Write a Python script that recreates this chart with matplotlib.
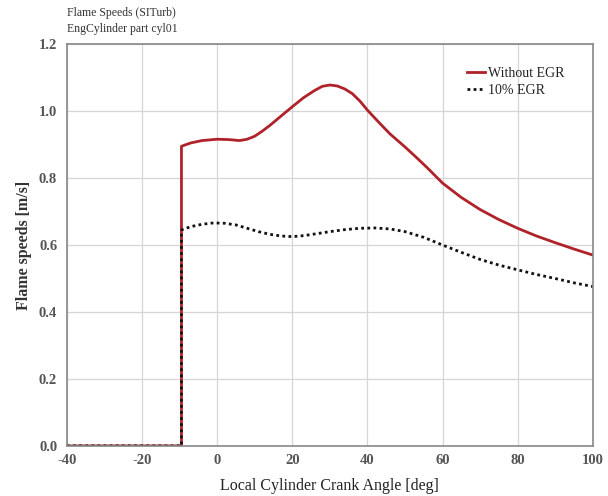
import matplotlib
matplotlib.use("Agg")
import matplotlib.pyplot as plt

# crank angle [deg] and flame speed [m/s]
angle_no_egr = [-40, -9.5, -9.5, -7, -4, 0, 3, 6, 8, 10, 12, 14, 17, 20, 23, 26, 28, 30,
                32, 34, 36, 38, 40, 43, 46, 50, 53, 56, 60, 65, 70, 75, 80, 85, 90, 95, 100]
speed_no_egr = [0.0, 0.0, 0.895, 0.905, 0.912, 0.916, 0.915, 0.912, 0.916, 0.925, 0.94,
                0.957, 0.985, 1.013, 1.04, 1.062, 1.074, 1.078, 1.075, 1.066, 1.052, 1.03,
                1.003, 0.967, 0.932, 0.893, 0.862, 0.83, 0.785, 0.742, 0.706, 0.676, 0.65,
                0.627, 0.607, 0.588, 0.57]

angle_egr = [-40, -9.5, -9.5, -7, -4, -1, 2, 5, 8, 11, 14, 17, 20, 23, 26, 30, 34, 38,
             42, 46, 50, 55, 60, 65, 70, 75, 80, 85, 90, 95, 100]
speed_egr = [0.0, 0.0, 0.645, 0.655, 0.662, 0.666, 0.665, 0.66, 0.65, 0.64, 0.632, 0.627,
             0.625, 0.628, 0.633, 0.64, 0.646, 0.65, 0.651, 0.648, 0.64, 0.623, 0.6,
             0.578, 0.557, 0.54, 0.526, 0.512, 0.5, 0.487, 0.476]

x_ticks = [-40, -20, 0, 20, 40, 60, 80, 100]
y_ticks = [0.0, 0.2, 0.4, 0.6, 0.8, 1.0, 1.2]

SERIF = "Liberation Serif"

fig = plt.figure(figsize=(6.08, 4.96), dpi=100)
ax = fig.add_axes([0.110, 0.101, 0.865, 0.810])

ax.plot(angle_no_egr, speed_no_egr, color="#b0222a", lw=2.0, label="Without EGR",
        solid_joinstyle="round")
ax.plot(angle_egr, speed_egr, color="#111111", lw=2.0, linestyle=(0, (1, 1.2)),
        label="10% EGR")

ax.set_xlim(-40, 100)
ax.set_ylim(0, 1.2)
ax.set_xticks(x_ticks)
ax.set_yticks(y_ticks)
ax.set_xticklabels([str(t) for t in x_ticks])
ax.set_yticklabels(["%.1f" % t for t in y_ticks])
ax.grid(True, color="#d6d6d6", lw=0.9)
ax.set_axisbelow(True)
ax.tick_params(axis="x", length=0, pad=6, labelsize=10.5, labelcolor="#555555")
ax.tick_params(axis="y", length=0, pad=7, labelsize=10.5, labelcolor="#555555")
for lab in ax.get_xticklabels() + ax.get_yticklabels():
    lab.set_fontfamily(SERIF)
    lab.set_fontweight("bold")
for sp in ax.spines.values():
    sp.set_color("#888888")
    sp.set_linewidth(1.2)

ax.set_xlabel("Local Cylinder Crank Angle [deg]", fontfamily=SERIF, fontsize=11.5,
              color="#222222", labelpad=8)
ax.set_ylabel("Flame speeds [m/s]", fontfamily=SERIF, fontsize=11.5, fontweight="bold",
              color="#333333", labelpad=5)

fig.text(0.110, 0.973, "Flame Speeds (SITurb)", fontfamily=SERIF, fontsize=8.5,
         color="#333333", va="center")
fig.text(0.110, 0.941, "EngCylinder part cyl01", fontfamily=SERIF, fontsize=8.5,
         color="#333333", va="center")

leg = ax.legend(loc="upper left", bbox_to_anchor=(460 / 608, 1 - 60 / 496),
                bbox_transform=fig.transFigure, frameon=False,
                prop={"family": SERIF, "size": 10}, borderpad=0,
                handlelength=1.3, handletextpad=0.2, labelspacing=0.3)
for t in leg.get_texts():
    t.set_color("#222222")

fig.savefig("out.png", dpi=100)
